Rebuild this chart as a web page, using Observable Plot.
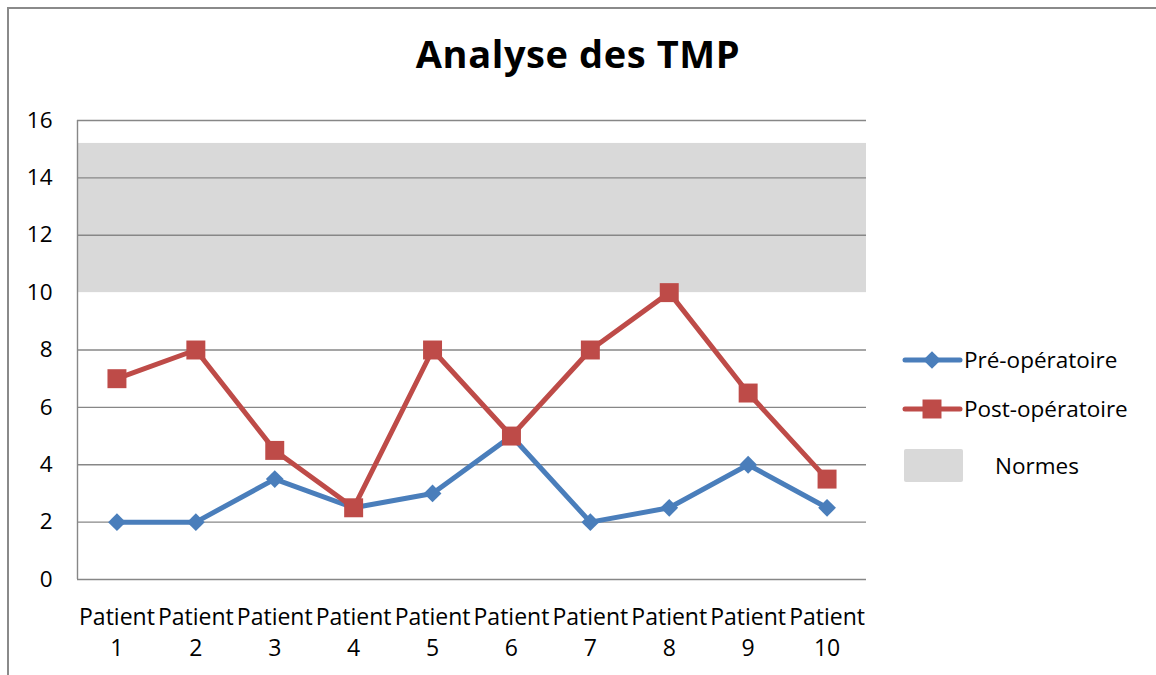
<!DOCTYPE html>
<html>
<head>
<meta charset="utf-8">
<script src="https://cdn.jsdelivr.net/npm/d3@7"></script>
<script src="https://cdn.jsdelivr.net/npm/@observablehq/plot@0.6"></script>
<style>
  html, body { margin: 0; padding: 0; background: #fff; }
  #wrap { position: relative; width: 1156px; height: 675px; overflow: hidden; font-family: "Open Sans", sans-serif; }
  #frame { position: absolute; left: 7px; top: 7px; width: 1160px; height: 680px; border-left: 2px solid #8a8a8a; border-top: 2px solid #8a8a8a; }
  #title { position: absolute; left: 0; width: 1156px; top: 34px; text-align: center; font-weight: 700; font-size: 38px; letter-spacing: 0.6px; color: #000; line-height: 1; }
  #chart { position: absolute; left: 0; top: 0; }
  #legend { position: absolute; left: 0; top: 0; }
</style>
</head>
<body>
<div id="wrap">
  <div id="frame"></div>
  <div id="chart"></div>
  <div id="title">Analyse des TMP</div>
  <svg id="legend" width="1156" height="675"></svg>
</div>
<script>
const patients = ["Patient 1","Patient 2","Patient 3","Patient 4","Patient 5","Patient 6","Patient 7","Patient 8","Patient 9","Patient 10"];
const preOp  = [2, 2, 3.5, 2.5, 3, 5, 2, 2.5, 4, 2.5];
const postOp = [7, 8, 4.5, 2.5, 8, 5, 8, 10, 6.5, 3.5];
const normLow = 10;
const normHigh = 15.2;
const yTicks = [0, 2, 4, 6, 8, 10, 12, 14, 16];
const seriesNames = ["Pré-opératoire", "Post-opératoire", "Normes"];
const seriesColors = ["#4A7EBB", "#BE4B48", "#D9D9D9"];

const pre = patients.map((p, i) => ({patient: p, value: preOp[i]}));
const post = patients.map((p, i) => ({patient: p, value: postOp[i]}));

const chart = Plot.plot({
  width: 1156,
  height: 675,
  marginLeft: 77,
  marginRight: 290,
  marginTop: 120,
  marginBottom: 96,
  style: {fontFamily: "'Open Sans', sans-serif", fontSize: "22px", color: "#000", background: "transparent"},
  x: {type: "point", domain: patients, padding: 0.5, round: false, label: null},
  y: {domain: [0, 16], label: null},
  marks: [
    Plot.rectY([{y1: normLow, y2: normHigh}], {y1: "y1", y2: "y2", fill: seriesColors[2]}),
    Plot.ruleY(yTicks.filter(d => d !== normLow), {stroke: "#878787", strokeWidth: 1.4, strokeOpacity: 1}),
    Plot.ruleX([0], {x: () => patients[0], y1: 0, y2: 16, dx: -39.45, stroke: "#878787", strokeWidth: 1.4}),
    Plot.axisY({ticks: yTicks, tickSize: 0, tickPadding: 25, fontSize: 22.5, label: null}),
    Plot.axisX({tickSize: 0, tickPadding: 23, fontSize: 23, lineHeight: 1.36, tickFormat: d => d.replace(" ", "\n"), label: null}),
    Plot.line(pre, {x: "patient", y: "value", stroke: seriesColors[0], strokeWidth: 5, strokeLinejoin: "round"}),
    Plot.dot(pre, {x: "patient", y: "value", symbol: "diamond2", r: 8, fill: seriesColors[0], stroke: "none"}),
    Plot.line(post, {x: "patient", y: "value", stroke: seriesColors[1], strokeWidth: 5, strokeLinejoin: "round"}),
    Plot.dot(post, {x: "patient", y: "value", symbol: "square", r: 10.7, fill: seriesColors[1], stroke: "none"})
  ]
});
document.getElementById("chart").appendChild(chart);

// Legend
const lg = d3.select("#legend");
const items = [
  {name: seriesNames[0], color: seriesColors[0], y: 360, sym: d3.symbolDiamond2, size: 200},
  {name: seriesNames[1], color: seriesColors[1], y: 409, sym: d3.symbolSquare, size: 360}
];
items.forEach(it => {
  lg.append("line").attr("x1", 905).attr("x2", 960).attr("y1", it.y).attr("y2", it.y)
    .attr("stroke", it.color).attr("stroke-width", 5).attr("stroke-linecap", "round");
  lg.append("path").attr("d", d3.symbol(it.sym, it.size)()).attr("transform", `translate(932,${it.y})`).attr("fill", it.color);
  lg.append("text").attr("x", 964).attr("y", it.y).attr("dy", "0.35em")
    .attr("font-family", "'Open Sans', sans-serif").attr("font-size", 22.5).attr("fill", "#000").text(it.name);
});
lg.append("rect").attr("x", 904).attr("y", 449).attr("width", 59).attr("height", 33).attr("rx", 2)
  .attr("fill", seriesColors[2]);
lg.append("text").attr("x", 995).attr("y", 466).attr("dy", "0.35em")
  .attr("font-family", "'Open Sans', sans-serif").attr("font-size", 22.5).attr("fill", "#000").text(seriesNames[2]);
</script>
</body>
</html>
